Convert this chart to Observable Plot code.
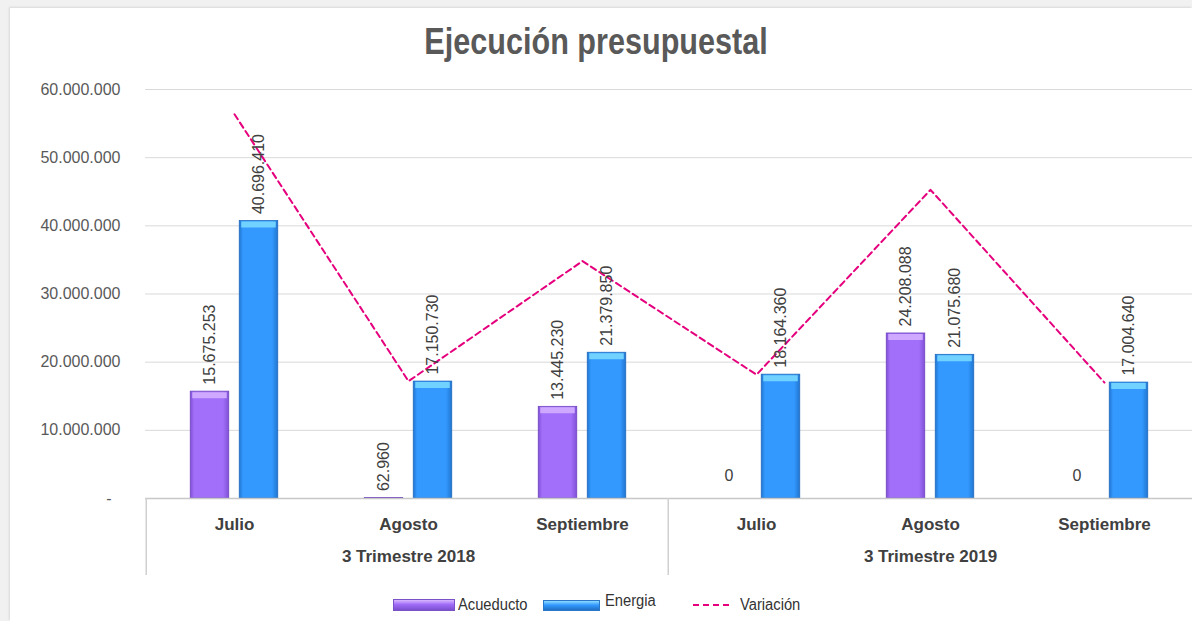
<!DOCTYPE html>
<html>
<head>
<meta charset="utf-8">
<script src="https://cdn.jsdelivr.net/npm/d3@7"></script>
<script src="https://cdn.jsdelivr.net/npm/@observablehq/plot@0.6"></script>
<style>
  html, body { margin:0; padding:0; background:#f1f1f1; width:1192px; height:621px; overflow:hidden; }
  #panel { position:absolute; left:10px; top:8px; width:1182px; height:613px; background:#fff; box-shadow: -1px -1px 2px #d8d8d8; }
  #chart { position:absolute; left:-10px; top:-8px; width:1192px; }
  #title { height:75px; line-height:84px; text-align:center; font-family:"Liberation Sans",Arial,sans-serif; font-weight:bold; font-size:36px; color:#595959; }
  #title span { display:inline-block; transform:scaleX(0.85); }
  #legend { position:absolute; top:596px; left:393px; display:flex; justify-content:flex-start; align-items:center; font-family:"Liberation Sans",Arial,sans-serif; font-size:16px; color:#333; }
  .sw { display:inline-block; margin-right:3px; }
  .item { display:flex; align-items:center; }
  .t { display:inline-block; transform:scaleX(0.92); transform-origin:left center; }
</style>
</head>
<body>
<div id="panel"><div id="chart">
  <div id="title"><span>Ejecución presupuestal</span></div>
  <div id="plot"></div>
</div></div>
<div id="legend">
  <div class="item" style="width:150px"><span class="sw" style="width:62px;height:12px;background:linear-gradient(#d9b8ff,#a06cf7 45%,#7b4fcf);border:1px solid #7a52c8;box-sizing:border-box"></span><span class="t">Acueducto</span></div>
  <div class="item" style="width:150px"><span class="sw" style="width:57px;height:11px;background:linear-gradient(#8fdcff,#3399ff 45%,#2170c4);border:1px solid #2a76c8;box-sizing:border-box"></span><span class="t" style="position:relative;top:-4px;margin-left:2px">Energia</span></div>
  <div class="item" style="width:125px"><svg width="38" height="6" style="margin-right:9px"><line x1="0" y1="3" x2="38" y2="3" stroke="#e5007d" stroke-width="2" stroke-dasharray="6,4"/></svg><span class="t">Variación</span></div>
</div>
<script>
const categories = ["Julio", "Agosto", "Septiembre", "Julio", "Agosto", "Septiembre"];
const periods = ["3 Trimestre 2018", "3 Trimestre 2018", "3 Trimestre 2018", "3 Trimestre 2019", "3 Trimestre 2019", "3 Trimestre 2019"];
const acueducto = [15675253, 62960, 13445230, 0, 24208088, 0];
const energia = [40696410, 17150730, 21379850, 18164360, 21075680, 17004640];
const variacion = [56371663, 17213690, 34825080, 18164360, 45283768, 17004640];
const yTicks = [0, 10000000, 20000000, 30000000, 40000000, 50000000, 60000000];
const groups = ["3 Trimestre 2018", "3 Trimestre 2019"];

const rows = categories.map((c, i) => ({key: periods[i] + "|" + c, cat: c, period: periods[i], acueducto: acueducto[i], energia: energia[i], variacion: variacion[i]}));
const keys = rows.map(d => d.key);
const fmt = d3.formatLocale({decimal: ",", thousands: ".", grouping: [3], currency: ["", ""]}).format(",");

const W = 1192, H = 505, mL = 145, mR = 0, mT = 14, mB = 82;
const bw = (W - mL - mR) / keys.length;
const barW = 39, gap = 10;
const off = (barW + gap) / 2;
const aIns = {insetLeft: bw/2 - gap/2 - barW, insetRight: bw/2 + gap/2};
const eIns = {insetLeft: bw/2 + gap/2, insetRight: bw/2 - gap/2 - barW};
const font = "'Liberation Sans', Arial, sans-serif";

const groupMid = groups.map(g => ({label: g, key: rows.filter(r => r.period === g)[1].key}));
const separators = [keys[0], keys[3]];

const chart = Plot.plot({
  width: W, height: H, marginLeft: mL, marginRight: mR, marginTop: mT, marginBottom: mB,
  style: {fontFamily: font, background: "transparent", overflow: "visible"},
  x: {type: "band", domain: keys, padding: 0, axis: null, label: null},
  y: {domain: [0, 60000000], axis: null, label: null},
  marks: [
    Plot.gridY(yTicks.slice(1), {stroke: "#d9d9d9", strokeOpacity: 1}),
    Plot.axisY(yTicks, {tickSize: 0, tickPadding: 25, fontSize: 16, fill: "#595959", label: null, tickFormat: d => d === 0 ? "-\u00a0\u00a0" : fmt(d)}),
    Plot.barY(rows, {x: "key", y: "acueducto", fill: "url(#gA)", stroke: "#7046c0", strokeWidth: 0.8, ...aIns}),
    Plot.barY(rows, {x: "key", y: "energia", fill: "url(#gE)", stroke: "#1f6bbf", strokeWidth: 0.8, ...eIns}),
    Plot.tickY(rows.filter(d => d.acueducto > 1000000), {x: "key", y: "acueducto", stroke: "#cfa8ff", strokeWidth: 6, dy: 3.5, insetLeft: aIns.insetLeft + 2, insetRight: aIns.insetRight + 2}),
    Plot.tickY(rows.filter(d => d.energia > 1000000), {x: "key", y: "energia", stroke: "#72d2ff", strokeWidth: 6, dy: 3.5, insetLeft: eIns.insetLeft + 2, insetRight: eIns.insetRight + 2}),
    Plot.ruleY([0], {stroke: "#c8c8c8", strokeWidth: 1.5}),
    Plot.ruleX(separators, {x: d => d, dx: -bw/2 - 1, stroke: "#d0d0d0", strokeWidth: 1.5, insetTop: H - mT - mB, insetBottom: -77}),
    Plot.line(rows, {x: "key", y: "variacion", stroke: "#e5007d", strokeWidth: 2, strokeDasharray: "6,4"}),
    Plot.text(rows.filter(d => d.acueducto > 0), {x: "key", y: "acueducto", text: d => fmt(d.acueducto), dx: -off, dy: -7, rotate: -90, textAnchor: "start", fontSize: 16, fill: "#404040"}),
    Plot.text(rows.filter(d => d.energia > 0), {x: "key", y: "energia", text: d => fmt(d.energia), dx: off, dy: -7, rotate: -90, textAnchor: "start", fontSize: 16, fill: "#404040"}),
    Plot.text(rows.filter(d => d.acueducto === 0), {x: "key", y: "acueducto", text: d => "0", dx: -off - 3, dy: -23, fontSize: 16, fill: "#404040"}),
    Plot.axisX({tickSize: 0, tickPadding: 19, tickFormat: d => d.split("|")[1], fontSize: 17, fontWeight: "bold", fill: "#404040", anchor: "bottom", label: null}),
    Plot.text(groupMid, {x: "key", text: "label", frameAnchor: "bottom", dy: 63, fontSize: 17, fontWeight: "bold", fill: "#404040"})
  ]
});

const svg = d3.select(chart);
const defs = svg.insert("defs", ":first-child");
function grad(id, edge, main) {
  const g = defs.append("linearGradient").attr("id", id).attr("x1", "0").attr("x2", "1").attr("y1", "0").attr("y2", "0");
  [[0, edge], [0.1, main], [0.85, main], [1, edge]].forEach(([o, c]) => g.append("stop").attr("offset", o).attr("stop-color", c));
}
grad("gA", "#8150d8", "#a16ff9");
grad("gE", "#2176d0", "#3399ff");
document.getElementById("plot").appendChild(chart);
</script>
</body>
</html>
